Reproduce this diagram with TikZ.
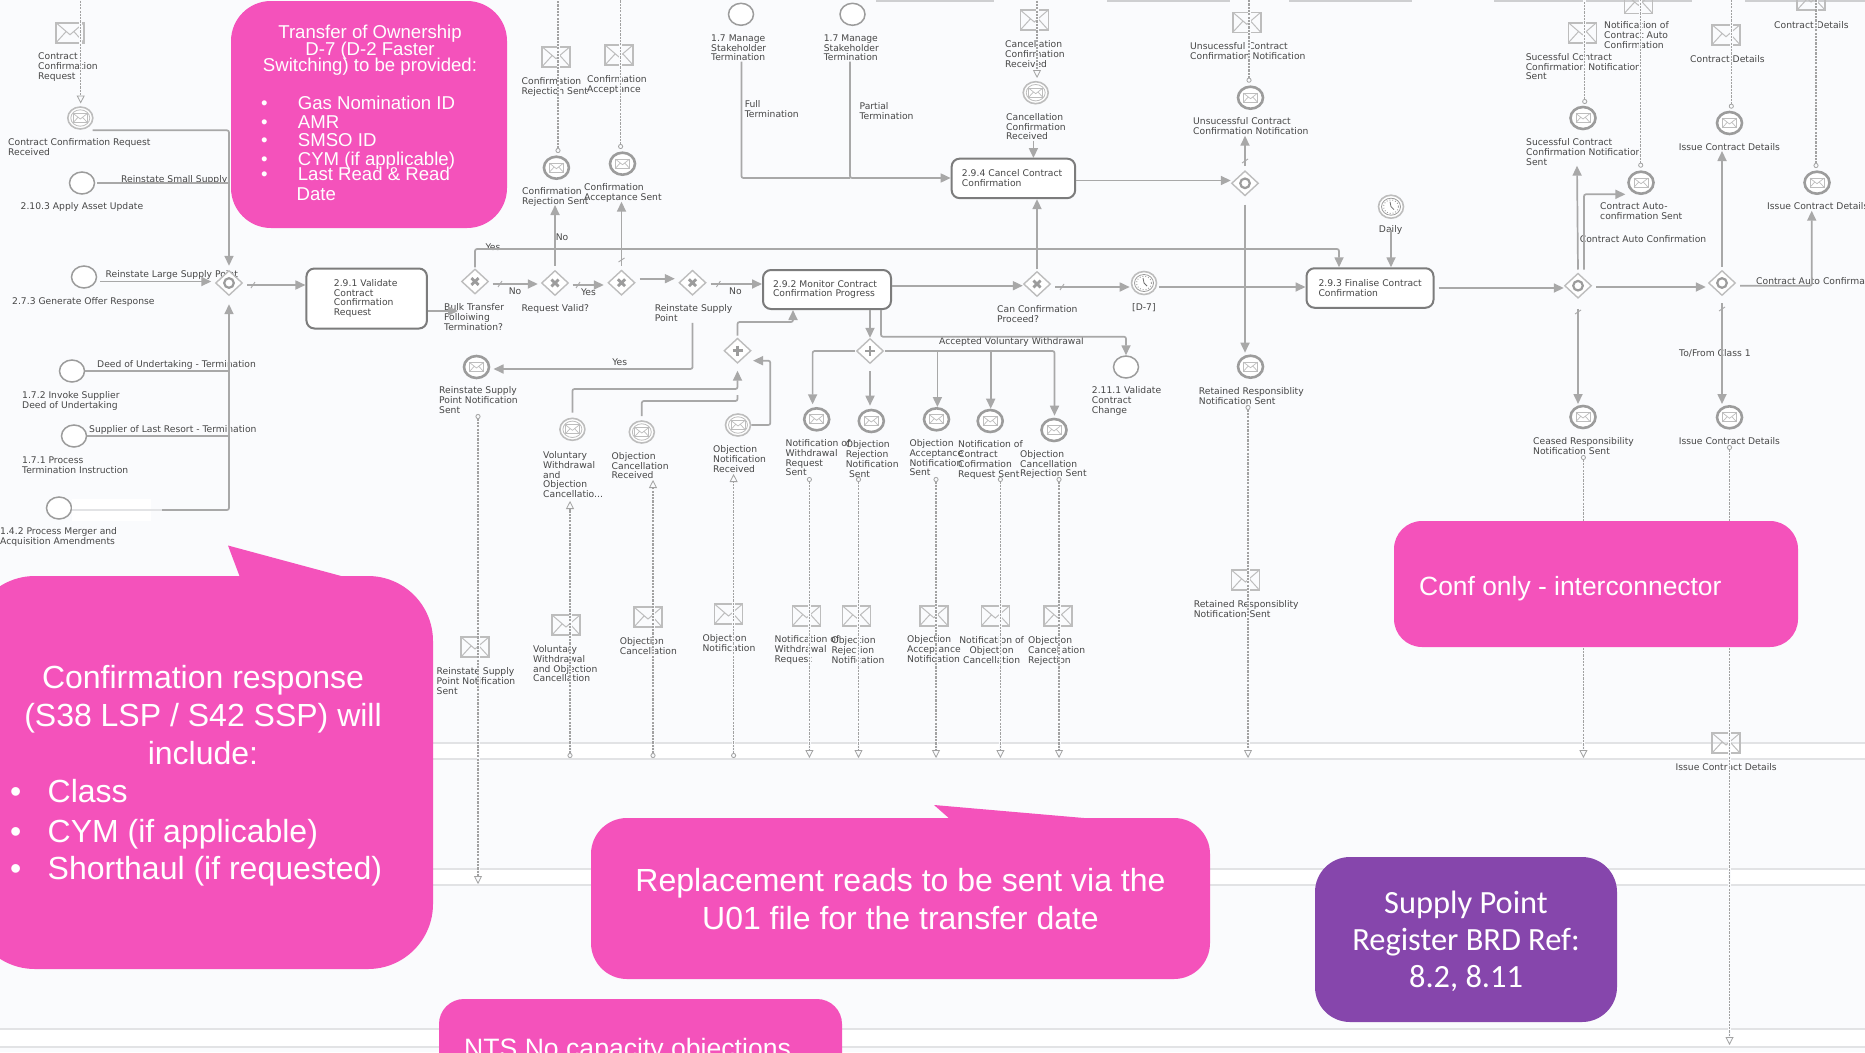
\documentclass[tikz,border=0pt]{standalone}
\usepackage{fontspec}
\usetikzlibrary{arrows.meta,shapes.geometric,calc}
\newfontfamily\labf{DejaVu Sans}
\newfontfamily\arf{Liberation Sans}
\newfontfamily\calf{Carlito}
\definecolor{bgc}{HTML}{FAFBFD}
\definecolor{seqc}{HTML}{A8A8A8}
\definecolor{msgc}{HTML}{A2A2A2}
\definecolor{ringc}{HTML}{9C9C9C}
\definecolor{taskc}{HTML}{7C7C7C}
\definecolor{envc}{HTML}{BDBDBD}
\definecolor{txtc}{HTML}{474747}
\definecolor{bandc}{HTML}{E2E3E5}
\definecolor{pinkc}{HTML}{F452BB}
\definecolor{purpc}{HTML}{8646AC}
\tikzset{
 lab/.style={font=\labf\fontsize{9.2}{9.8}\selectfont,text=txtc,inner sep=0pt,align=left,anchor=north west,yshift=3.7pt},
 clab/.style={font=\labf\fontsize{9.2}{9.8}\selectfont,text=txtc,inner sep=0pt,anchor=center},
 seqn/.style={draw=seqc,line width=1.7pt,rounded corners=2pt},
 seq/.style={seqn,-{Triangle[length=10pt,width=9pt]}},
 halo/.style={preaction={draw=bgc,line width=3.4pt,-}},
 msgbase/.style={draw=msgc,line width=1.2pt,dash pattern=on 2.2pt off 1.1pt,preaction={draw=bgc,line width=3pt,solid,-}},
 msgout/.style={msgbase,{Circle[open,length=5pt,width=5pt,fill=bgc,line width=.8pt]}-},
 msgoutin/.style={msgbase,{Circle[open,length=5pt,width=5pt,fill=bgc,line width=.8pt]}-{Triangle[open,length=8pt,width=8pt,fill=bgc,line width=.8pt]}},
 msgin/.style={msgbase,-{Triangle[open,length=8pt,width=8pt,fill=bgc,line width=.8pt]}},
 tickm/.style={draw=seqc,line width=.9pt},
 strt/.style={ellipse,draw=ringc,line width=1.5pt,fill=white,minimum width=25pt,minimum height=22pt,inner sep=0pt},
 envmark/.style={path picture={\begin{scope}[shift={(path picture bounding box.center)}]
   \draw[envc,line width=.8pt] (-7,-4.5) rectangle (7,4.5);
   \draw[envc,line width=.7pt] (-7,-4.5) -- (0,1) -- (7,-4.5) (-7,4.5) -- (-2,-1) (7,4.5) -- (2,-1);
   \end{scope}}},
 msgthrow/.style={strt,draw=ringc,line width=2.6pt,envmark},
 msgcatch/.style={ellipse,draw=envc,line width=1.6pt,fill=white,minimum width=25pt,minimum height=22pt,inner sep=0pt,path picture={\begin{scope}[shift={(path picture bounding box.center)}]
   \draw[envc,line width=.8pt] (0,0) circle[x radius=9.5,y radius=8.2];
   \draw[envc,line width=.8pt] (-7,-4.5) rectangle (7,4.5);
   \draw[envc,line width=.7pt] (-7,-4.5) -- (0,1) -- (7,-4.5) (-7,4.5) -- (-2,-1) (7,4.5) -- (2,-1);
   \end{scope}}},
 timerev/.style={ellipse,draw=envc,line width=1.6pt,fill=white,minimum width=25pt,minimum height=23pt,inner sep=0pt,path picture={\begin{scope}[shift={(path picture bounding box.center)}]
   \draw[ringc,line width=.8pt] (0,0) circle[x radius=9.5,y radius=8.5];
   \draw[ringc,line width=.9pt,dotted] (0,0) circle[x radius=7.5,y radius=6.8];
   \draw[ringc!70!black,line width=.8pt] (-1,-5) -- (0,0) -- (3,3);
   \end{scope}}},
 envnode/.style={rectangle,draw=envc,line width=1.6pt,minimum width=28pt,minimum height=20pt,inner sep=0pt,path picture={\begin{scope}[shift={(path picture bounding box.center)}]
   \draw[envc,line width=1pt] (-14,-10) -- (0,2) -- (14,-10) (-14,10) -- (-4,-1) (14,10) -- (4,-1);
   \end{scope}}},
 gate/.style={diamond,draw=envc,line width=1.4pt,fill=white,minimum width=27pt,minimum height=25pt,inner sep=0pt},
 gx/.style={gate,path picture={\begin{scope}[shift={(path picture bounding box.center)}]
   \draw[ringc,line width=2.8pt] (-3.6,-3.4) -- (3.6,3.4) (-3.6,3.4) -- (3.6,-3.4);\end{scope}}},
 gp/.style={gate,path picture={\begin{scope}[shift={(path picture bounding box.center)}]
   \draw[ringc,line width=2.6pt] (-5,0) -- (5,0) (0,-5) -- (0,5);\end{scope}}},
 go/.style={gate,path picture={\begin{scope}[shift={(path picture bounding box.center)}]
   \draw[ringc,line width=2.2pt] (0,0) circle[x radius=4.8,y radius=4.8];\end{scope}}},
 taskn/.style={rectangle,rounded corners=8pt,draw=taskc,line width=2pt,fill=white,align=left,text=txtc,font=\labf\fontsize{9.2}{9.8}\selectfont,inner ysep=0pt},
 pinkbox/.style={rectangle,fill=pinkc,text=white,inner sep=0pt},
 pinkt/.style={text=white,inner sep=0pt,anchor=base west},
}
\newcommand\lbl[4]{\node[lab] (#1) at (#2,#3) {\rule{0pt}{7pt}#4};}
\newcommand\envl[3]{\node[envnode] (#1) at (#2,#3) {};}
\newcommand\tickh[2]{\draw[tickm] (#1-2,#2+3) -- (#1+2,#2-3);}
\newcommand\tickv[2]{\draw[tickm] (#1-3,#2+2) -- (#1+3,#2-2);}
\newcommand\msgtop[3]{\coordinate (#1o) at (#2,#3); \draw[msgout] (#1o) -- (#1o |- ttop);}
\newcommand\msgdown[4]{\coordinate (#1o) at (#2,#3); \draw[msgoutin] (#1o) -- (#1o |- #4);}
\newcommand\msginc[3]{\coordinate (#1o) at (#2,#3); \draw[msgoutin] (#1o |- bandlow) -- (#1o);}
\newcommand\msgfromtop[3]{\coordinate (#1i) at (#2,#3); \draw[msgin] (#1i |- ttop) -- (#1i);}
\newcommand\bul[6]{\node[pinkt,font=\arf\fontsize{#5}{#5}\selectfont] (#1a) at (#2,#4) {\textbullet}; \node[pinkt,font=\arf\fontsize{#5}{#5}\selectfont] (#1b) at (#3,#4) {#6};}
\setlength\lineskiplimit{-100pt}
\begin{document}
\begin{tikzpicture}[x=1pt,y=-1pt]
\clip (0,0) rectangle (1865,1052);
\fill[bgc] (0,0) rectangle (1865,1052);
% swimlane bands
\fill[white] (0,743) rectangle (1865,759);
\fill[white] (0,869) rectangle (1865,885);
\fill[white] (0,1029) rectangle (1865,1047);
\draw[bandc,line width=1.3pt] (0,743) -- (1865,743) (0,759) -- (1865,759)
 (0,869) -- (1865,869) (0,885) -- (1865,885) (0,1029) -- (1865,1029) (0,1047) -- (1865,1047);
\draw[bandc!80!gray,line width=1.3pt] (876,1) -- (994,1) (1107,1) -- (1230,1) (1289,1) -- (1412,1) (1494,1) -- (1692,1) (1745,1) -- (1865,1);
\coordinate (ttop) at (0,-6);
\coordinate (bandlow) at (0,758);
\coordinate (band2) at (0,884);
\coordinate (band3) at (0,1045);
% labels
\lbl{l1}{38}{56.4}{Contract\\Confirmation\\Request}
\lbl{l2}{8}{142}{Contract Confirmation Request\\Received}
\lbl{l3}{121}{179}{Reinstate Small Supply}
\lbl{l4}{20.5}{206}{2.10.3  Apply Asset Update}
\lbl{l5}{105.5}{274}{Reinstate Large Supply Point}
\lbl{l6}{12}{301}{2.7.3 Generate Offer Response}
\lbl{l7}{97}{364}{Deed of Undertaking - Termination}
\lbl{l8}{22}{395}{1.7.2 Invoke Supplier\\Deed of Undertaking}
\lbl{l9}{89}{429}{Supplier of Last Resort - Termination}
\lbl{l10}{22}{460}{1.7.1 Process\\Termination Instruction}
\lbl{l11}{0}{531}{1.4.2 Process Merger and\\Acquisition Amendments}
\lbl{l12}{444}{307}{Bulk Transfer\\Folloiwing\\Termination?}
\node[clab] (lyes1) at (493,247.5) {Yes};
\node[clab] (lno1) at (515,291) {No};
\lbl{l14}{521.5}{307.7}{Request Valid?}
\node[clab] (lno2) at (562,237) {No};
\lbl{l15}{522}{191}{Confirmation\\Rejection Sent}
\lbl{l16}{521.5}{81}{Confirmation\\Rejection Sent}
\node[clab] (lyes2) at (588.5,292) {Yes};
\lbl{l17}{584}{186.7}{Confirmation\\Acceptance Sent}
\lbl{l18}{587}{79}{Confirmation\\Acceptance}
\lbl{l19}{654.6}{307.7}{Reinstate Supply\\Point}
\node[clab] (lno3) at (735.4,291) {No};
\node[clab] (lyes3) at (619.7,362.7) {Yes};
\lbl{l20}{439}{390}{Reinstate Supply\\Point Notification\\Sent}
\lbl{l21}{436.5}{671}{Reinstate Supply\\Point Notification\\Sent}
\lbl{l22}{997}{309.3}{Can Confirmation\\Proceed?}
\lbl{l23}{1132}{307}{[D-7]}
\node[clab] (ldaily) at (1390.6,230) {Daily};
\lbl{l24}{1193}{121}{Unsucessful Contract\\Confirmation Notification}
\lbl{l25}{1190}{46}{Unsucessful Contract\\Confirmation Notification}
\lbl{l26}{1198.7}{390.7}{Retained Responsiblity\\Notification Sent}
\lbl{l27}{1193.6}{604}{Retained Responsiblity\\Notification Sent}
\lbl{l28}{711}{37.7}{1.7 Manage\\Stakeholder\\Termination}
\lbl{l29}{823.6}{37.7}{1.7 Manage\\Stakeholder\\Termination}
\lbl{l30}{744.6}{104}{Full\\Termination}
\lbl{l31}{859.4}{105.7}{Partial\\Termination}
\lbl{l32}{1005}{44}{Cancellation\\Confirmation\\Received}
\lbl{l33}{1006}{116.7}{Cancellation\\Confirmation\\Received}
\lbl{l34}{939}{340.7}{Accepted Voluntary Withdrawal}
\lbl{l35}{1091.7}{390.3}{2.11.1 Validate\\Contract\\Change}
\lbl{l36}{785.5}{443}{Notification of\\Withdrawal\\Request\\Sent}
\lbl{l37}{845.6}{444.3}{Objection\\Rejection\\Notification\\\hspace*{3.2pt}Sent}
\lbl{l38}{909.4}{443}{Objection\\Acceptance\\Notification\\Sent}
\lbl{l39}{958}{444.3}{Notification of\\Contract\\Cofirmation\\Request Sent}
\lbl{l40}{1020}{453.7}{Objection\\Cancellation\\Rejection Sent}
\lbl{l41}{774.5}{639}{Notification of\\Withdrawal\\Request}
\lbl{l42}{831.4}{640}{Objection\\Rejection\\Notification}
\lbl{l43}{907}{639.3}{Objection\\Acceptance\\Notification}
\node[lab,align=center,anchor=north] (l44) at (991.6,640) {\rule{0pt}{7pt}Notification of\\Objection\\Cancellation};
\lbl{l45}{1028}{640}{Objection\\Cancellation\\Rejection}
\lbl{l46}{543}{455}{Voluntary\\Withdrawal\\and\\Objection\\Cancellatio...}
\lbl{l47}{611.5}{455.7}{Objection\\Cancellation\\Received}
\lbl{l48}{713}{449.3}{Objection\\Notification\\Received}
\lbl{l49}{533}{649}{Voluntary\\Withdrawal\\and Objection\\Cancellation}
\lbl{l50}{619.7}{640.7}{Objection\\Cancellation}
\lbl{l51}{702.4}{638}{Objection\\Notification}
\lbl{l52}{1526}{142}{Sucessful Contract\\Confirmation Notification\\Sent}
\lbl{l53}{1525.6}{56.7}{Sucessful Contract\\Confirmation Notification\\Sent}
\lbl{l54}{1600}{205.7}{Contract Auto-\\confirmation Sent}
\lbl{l55}{1604}{25}{Notification of\\Contract Auto\\Confirmation}
\lbl{l56}{1678.6}{147}{Issue Contract Details}
\lbl{l57}{1690}{58.7}{Contract Details}
\lbl{l58}{1579.7}{238.7}{Contract Auto Confirmation}
\lbl{l59}{1756}{280.7}{Contract Auto Confirmation}
\lbl{l60}{1767}{206.3}{Issue Contract Details}
\lbl{l61}{1774}{25}{Contract Details}
\lbl{l62}{1533}{441}{Ceased Responsibility\\Notification Sent}
\lbl{l63}{1679}{353.3}{To/From Class 1}
\lbl{l64}{1678.6}{441}{Issue Contract Details}
\lbl{l65}{1675.4}{767}{Issue Contract Details}
% envelopes
\envl{eCCR}{70}{32.7}
\envl{eRej}{556}{56.7}
\envl{eAcc}{619}{55}
\envl{eRS}{475}{647}
\envl{eCan}{1034.3}{20}
\envl{eUns}{1246.8}{22.3}
\envl{eRet}{1245.4}{580}
\envl{eNW}{806.6}{615.7}
\envl{eOR}{856.6}{616}
\envl{eOA}{933.8}{615.7}
\envl{eNC}{995.3}{616}
\envl{eCR}{1057.7}{615.7}
\envl{eVW}{566}{625}
\envl{eOC}{648}{617}
\envl{eON}{728.5}{614}
\envl{eSuc}{1582.4}{32.7}
\envl{eAuto}{1638.4}{3.3}
\envl{eICD}{1726}{34.7}
\envl{eICT}{1811}{0}
\envl{eICB}{1726}{743}
% start events
\node[strt] (stSmall) at (82,183) {};
\node[strt] (stLarge) at (84,277) {};
\node[strt] (stDeed) at (72,371) {};
\node[strt] (stResort) at (74,436) {};
\node[strt] (stMerge) at (59,508) {};
\node[strt] (stFull) at (741,14.3) {};
\node[strt] (stPart) at (852.5,14.3) {};
\node[strt] (stV) at (1126,367) {};
\node[timerev] (tmD) at (1144,283) {};
\node[timerev] (tmDaily) at (1391,206.7) {};
% message events
\node[msgcatch] (evCCR) at (80.3,118) {};
\node[msgthrow] (evRej) at (556.4,167.7) {};
\node[msgthrow] (evAcc) at (622.5,163.7) {};
\node[msgthrow] (evRS) at (476.5,367) {};
\node[msgcatch] (evCan) at (1035.7,92.7) {};
\node[msgthrow] (evUns) at (1250.5,97.7) {};
\node[msgthrow] (evRet) at (1250.5,366.7) {};
\node[msgthrow] (evNW) at (816.7,419.3) {};
\node[msgthrow] (evOR) at (871.3,421) {};
\node[msgthrow] (evOA) at (936.5,419.3) {};
\node[msgthrow] (evNC) at (990.2,421) {};
\node[msgthrow] (evCR) at (1054,430) {};
\node[msgcatch] (evVW) at (572.4,429.3) {};
\node[msgcatch] (evOC) at (641.8,432) {};
\node[msgcatch] (evON) at (738,425) {};
\node[msgthrow] (evSuc) at (1583,118) {};
\node[msgthrow] (evAuto) at (1641,182.7) {};
\node[msgthrow] (evICD) at (1729.5,123) {};
\node[msgthrow] (evICT) at (1817,182.7) {};
\node[msgthrow] (evCea) at (1583,417) {};
\node[msgthrow] (evICB) at (1729.5,417.3) {};
% gateways
\node[go] (gM) at (229,283) {};
\node[gx] (gB) at (475,281.5) {};
\node[gx] (gRV) at (555,283) {};
\node[gx] (gT) at (621.5,282.7) {};
\node[gx] (gR) at (692.5,282.7) {};
\node[gx] (gC) at (1037,284) {};
\node[go] (gU) at (1245,183.3) {};
\node[gp] (gP) at (870,351) {};
\node[gp] (gI) at (737.5,350.7) {};
\node[go] (gA) at (1578,285.7) {};
\node[go] (gZ) at (1722,283) {};
% tasks
\node[taskn,minimum width=120.5pt,minimum height=60pt,inner xsep=27.5pt,text width=65.5pt] (tV) at (366.7,298.5) {2.9.1 Validate\\Contract\\Confirmation\\Request};
\node[taskn,minimum width=128pt,minimum height=39pt,inner xsep=10pt,text width=108pt] (tP) at (827,289.5) {\mbox{2.9.2 Monitor Contract}\\\mbox{Confirmation Progress}};
\node[taskn,minimum width=127pt,minimum height=39.5pt,inner xsep=12pt,text width=103pt] (tF) at (1370,288) {\mbox{2.9.3 Finalise Contract}\\Confirmation};
\node[taskn,minimum width=123.5pt,minimum height=39.5pt,inner xsep=10.3pt,text width=102.9pt] (tC) at (1013.4,178.4) {\mbox{2.9.4 Cancel Contract}\\Confirmation};
% free ends
\coordinate (mfade) at (162,510);
\coordinate (bulkin) at (458,311);
\coordinate (yesBend) at (1339,249);
\coordinate (tipRej) at (555,205);
\coordinate (tipAcc) at (621.5,201.7);
\coordinate (rsBend) at (692.5,369);
\coordinate (tipRS) at (493.5,369);
\coordinate (tipU) at (1245,135.7);
\coordinate (tipRet) at (1245,352.7);
\coordinate (tipSuc) at (1577,165.7);
\coordinate (tipAuto) at (1625.4,194.3);
\coordinate (tipIC) at (1722,151);
\coordinate (tipICT) at (1811.7,210.7);
\coordinate (tipCea) at (1578,404);
\coordinate (tipICB) at (1722,404);
\coordinate (fullB) at (850,178);
\coordinate (vwB) at (1126,336.7);
\coordinate (tpB) at (793,322);
\coordinate (volB) at (737.5,389);
\coordinate (onB) at (770.3,360.7);
\coordinate (onTip) at (753,360.7);
\coordinate (tipNW) at (812.6,404.3);
\coordinate (tipCR) at (1054.5,415.7);
\coordinate (bA) at (937.4,351.7);
\coordinate (bN) at (990.7,351.7);
\coordinate (tipIn) at (737.5,370.7);
\coordinate (tipCan) at (1033.4,158);
\coordinate (fullTop) at (741.4,61.7);
\coordinate (partTop) at (850,61.7);
\coordinate (canTop) at (1033.4,140.7);
% white patch on the merger flow
\fill[white] (72,499) rectangle (151,521);
\draw[draw=bandc,line width=1.7pt] (stMerge.east |- mfade) -- (mfade);
% sequence flows
\draw[seq,shorten >=4pt] ([shift={(3,4)}]evCCR.south east) -| (gM.north);
\draw[seqn,shorten <=2pt] (stSmall.east) -- (stSmall.east -| gM.north);
\draw[seq,shorten <=3pt,shorten >=3.5pt] (stLarge.east |- 0,281.5) -- (gM.west |- 0,281.5);
\draw[seq,halo,shorten >=8pt] (mfade) -| (gM.south);
\draw[seqn] (stDeed.east) -- (stDeed.east -| gM.south);
\draw[seqn] (stResort.east) -- (stResort.east -| gM.south);
\draw[seq,shorten <=4pt] (gM.east |- 0,285) -- (tV.west |- 0,285);
\draw[seq] (tV.east |- bulkin) -- (bulkin);
\draw[seq,shorten <=1pt] (gB.north) |- (yesBend) -- (yesBend |- tF.north);
\draw[seq,shorten <=3.5pt,shorten >=3pt] (gB.east |- 0,284) -- (gRV.west |- 0,284);
\draw[seq,shorten <=4pt] (gRV.north) -- (tipRej);
\draw[seq,shorten <=3.5pt,shorten >=3.5pt] (gRV.east |- 0,285) -- (gT.west |- 0,285);
\draw[seq,shorten <=4pt] (gT.north) -- (tipAcc);
\draw[seq,shorten <=4pt,shorten >=3.5pt] (gT.east |- 0,278.7) -- (gR.west |- 0,278.7);
\draw[seq,shorten <=4pt] (gR.east |- 0,284) -- (tP.west |- 0,284);
\draw[seq,shorten <=27pt] (gR.south) |- (rsBend) -- (tipRS);
\draw[seq] (tP.east |- 0,285.7) -- (gC.west |- 0,285.7);
\draw[seq,shorten <=1.5pt] (gC.north) -- (gC.north |- tC.south);
\draw[seq,shorten <=4pt,shorten >=1pt] (gC.east |- 0,287) -- (tmD.west |- 0,287);
\draw[seq,shorten <=2pt] (tmD.east |- 0,287) -- (tF.west |- 0,287);
\draw[seq,shorten <=11pt] (tmDaily.south) -- (tmDaily.south |- tF.north);
\draw[seq] (tC.east |- 0,180.5) -- (gU.west |- 0,180.5);
\draw[seq,shorten <=4pt] (gU.north) -- (tipU);
\draw[seq,shorten <=8pt] (gU.south) -- (tipRet);
\draw[seqn] (fullTop) |- (fullB);
\draw[seq] (partTop) -- (fullB) -- (tC.west |- fullB);
\draw[seq] (canTop) -- (tipCan);
\draw[seq,shorten <=4pt] (tF.east |- 0,288) -- (gA.west |- 0,288);
\draw[seq,shorten <=4pt,shorten >=2pt] (gA.east |- 0,287) -- (gZ.west |- 0,287);
\draw[seq,shorten <=3pt] (gA.north) -- (tipSuc);
\draw[seq,shorten <=3pt] (gA.north -| 1584,0) |- (tipAuto);
\draw[seq,shorten <=3pt] (gZ.north) -- (tipIC);
\draw[seq,shorten <=4pt] (gZ.east |- 0,285.7) -| (tipICT);
\draw[seq,shorten <=10pt] (gA.south) -- (tipCea);
\draw[seq,shorten <=7pt] (gZ.south) -- (tipICB);
\draw[seq] (tP.south -| gP.north) -- (gP.north);
\draw[seq] (tP.south -| 881,0) |- (vwB) -- (stV.north);
\draw[seq,shorten <=1pt] (gP.west) -| (tipNW);
\draw[seq,shorten <=7pt,shorten >=3pt] (gP.south) -- (evOR.north -| gP.south);
\draw[seq,shorten <=1pt] (gP.east) -| (tipCR);
\draw[seq] (bA) -- (evOA.north -| bA);
\draw[seq] (bN) -- (evNC.north -| bN);
\draw[seq,shorten <=2pt] (gI.north) |- (tpB) -- (tpB |- tP.south);
\draw[seq,shorten <=5pt] (evVW.north) |- (volB) -- (tipIn);
\draw[seqn,shorten <=4pt] (evOC.north) |- (volB |- 0,401) -- (volB |- 0,395);
\draw[seq] (evON.east) -| (onB) -- (onTip);
% default-flow ticks
\tickh{253}{285} \tickh{500}{284} \tickh{578}{285} \tickh{718.4}{284} \tickh{1062}{287}
\tickv{621.5}{260} \tickv{1245}{161} \tickv{1578}{312} \tickv{1722}{309}
% message flows
\msgfromtop{evCCR}{80.7}{103.5}
\msgfromtop{evCan}{1037}{78}
\msgtop{evRej}{558}{153}
\msgtop{evAcc}{620.6}{149}
\msgtop{evUns}{1249}{82.7}
\msgtop{evSuc}{1584.7}{104}
\msgtop{evAuto}{1640.7}{167.7}
\msgtop{evICD}{1731.3}{108.7}
\msgtop{evICT}{1816}{168}
\msgdown{evRS}{478}{414}{band2}
\msgdown{evRet}{1248}{405}{bandlow}
\msgdown{evNW}{809.4}{477}{bandlow}
\msgdown{evOR}{858.5}{477}{bandlow}
\msgdown{evOA}{936}{477}{bandlow}
\msgdown{evNC}{1000.4}{477}{bandlow}
\msgdown{evCR}{1059}{477}{bandlow}
\msgdown{evCea}{1583.4}{455}{bandlow}
\msgdown{evICB}{1729.5}{445}{band3}
\msginc{evVW}{570}{501}
\msginc{evOC}{653}{480}
\msginc{evON}{733.6}{474}
% pink notes
\node[pinkbox,rounded corners=40pt,minimum width=276pt,minimum height=227pt] (nTrans) at (369,114.5) {};
\node[inner sep=0pt,text=white,align=center,font=\arf\fontsize{18.6}{16.5}\selectfont] (nTransT) at (370,50.5) {Transfer of Ownership\\D-7 (D-2 Faster\\Switching) to be provided:};
\bul{b1}{261}{297.7}{109}{18.6}{Gas Nomination ID}
\bul{b2}{261}{297.7}{128}{18.6}{AMR}
\bul{b3}{261}{297.7}{146.5}{18.6}{SMSO ID}
\bul{b4}{261}{297.7}{165.5}{18.6}{CYM (if applicable)}
\bul{b5}{261}{297.7}{180}{18.6}{Last Read \& Read}
\node[pinkt,font=\arf\fontsize{18.6}{18.6}\selectfont] (b6) at (296.5,200.7) {Date};
% confirmation callout
\fill[pinkc] (228,545.5) -- (241,580) -- (356,580) -- cycle;
\node[pinkbox,rounded corners=65pt,minimum width=463pt,minimum height=393pt] (nConf) at (201.5,772.5) {};
\node[inner sep=0pt,text=white,align=center,font=\arf\fontsize{32}{38}\selectfont] (nConfT) at (203,715.5) {Confirmation response\\(S38 LSP / S42 SSP) will\\include:};
\bul{c1}{10}{47.5}{802}{32}{Class}
\bul{c2}{10}{47.5}{842}{32}{CYM (if applicable)}
\bul{c3}{10}{47.5}{879}{32}{Shorthaul (if requested)}
% replacement callout
\fill[pinkc] (934,805) -- (951,820) -- (1107,820) -- cycle;
\node[pinkbox,rounded corners=36pt,minimum width=619pt,minimum height=161pt] (nRepl) at (900.5,898.5) {};
\node[inner sep=0pt,text=white,align=center,font=\arf\fontsize{32}{38}\selectfont] (nReplT) at (900.5,899.5) {Replacement reads to be sent via the\\U01 file for the transfer date};
% conf only
\node[pinkbox,rounded corners=28pt,minimum width=404pt,minimum height=126pt] (nIC) at (1596,584) {};
\node[pinkt,font=\arf\fontsize{26.4}{30}\selectfont] (nICT) at (1419,595.5) {Conf only - interconnector};
% purple
\node[rectangle,fill=purpc,inner sep=0pt,rounded corners=35pt,minimum width=302pt,minimum height=165pt] (nBRD) at (1466,939.5) {};
\node[inner sep=0pt,text=white,align=center,font=\calf\fontsize{32.4}{37}\selectfont] (nBRDT) at (1466,941.5) {Supply Point\\Register BRD Ref:\\8.2, 8.11};
% NTS
\node[pinkbox,rounded corners=25pt,minimum width=403pt,minimum height=200pt] (nNTS) at (640.5,1099) {};
\node[pinkt,font=\arf\fontsize{26.6}{30}\selectfont] (nNTST) at (464,1057) {NTS No capacity objections};
\end{tikzpicture}
\end{document}
